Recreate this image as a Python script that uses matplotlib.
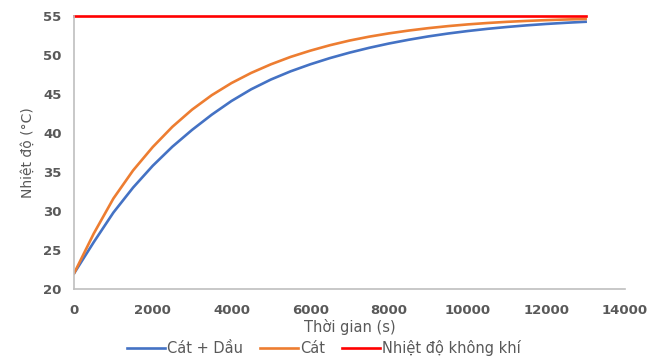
import matplotlib.pyplot as plt

# Data
time_s = [0, 500, 1000, 1500, 2000, 2500, 3000, 3500, 4000, 4500, 5000, 5500, 6000,
          6500, 7000, 7500, 8000, 8500, 9000, 9500, 10000, 10500, 11000, 11500,
          12000, 12500, 13000]
cat_dau = [22.0, 26.0, 29.8, 33.0, 35.8, 38.25, 40.4, 42.35, 44.1, 45.6, 46.85, 47.9, 48.8,
           49.6, 50.3, 50.92, 51.47, 51.95, 52.38, 52.75, 53.07, 53.35, 53.59, 53.8,
           53.98, 54.13, 54.26]
cat = [22.0, 27.1, 31.6, 35.2, 38.2, 40.8, 43.0, 44.85, 46.4, 47.7, 48.8, 49.75, 50.55,
       51.25, 51.85, 52.35, 52.77, 53.13, 53.44, 53.7, 53.92, 54.1, 54.25, 54.37,
       54.47, 54.55, 54.62]
air_time = [0, 13000]
air_temp = [55, 55]

x_ticks = [0, 2000, 4000, 6000, 8000, 10000, 12000, 14000]
y_ticks = [20, 25, 30, 35, 40, 45, 50, 55]

fig = plt.figure(figsize=(6.61, 3.61), dpi=100)
ax = fig.add_axes([0.112, 0.1994, 0.8335, 0.7563])

ax.plot(time_s, cat_dau, color='#4472C4', lw=1.9, label='Cát + Dầu')
ax.plot(time_s, cat, color='#ED7D31', lw=1.9, label='Cát')
ax.plot(air_time, air_temp, color='#FF0000', lw=1.9, label='Nhiệt độ không khí', clip_on=False)

ax.set_xlim(0, 14000)
ax.set_ylim(20, 55)
ax.set_xticks(x_ticks)
ax.set_yticks(y_ticks)
ax.tick_params(length=0, labelsize=9.5, labelcolor='#595959')
ax.tick_params(axis='x', pad=11)
ax.tick_params(axis='y', pad=9)
for lab in ax.get_xticklabels() + ax.get_yticklabels():
    lab.set_fontweight('bold')

for s in ['top', 'right']:
    ax.spines[s].set_visible(False)
for s in ['left', 'bottom']:
    ax.spines[s].set_color('#BFBFBF')
    ax.spines[s].set_linewidth(1.2)

ax.set_xlabel('Thời gian (s)', fontsize=10.5, color='#595959', labelpad=1)
ax.set_ylabel('Nhiệt độ (°C)', fontsize=10, color='#595959', labelpad=6)

fig.legend(loc='lower center', bbox_to_anchor=(0.49, -0.022), ncol=3, frameon=False,
           fontsize=10.5, labelcolor='#595959', handlelength=2.6, handletextpad=0.1,
           columnspacing=1.2)

plt.savefig('out.png', dpi=100)
